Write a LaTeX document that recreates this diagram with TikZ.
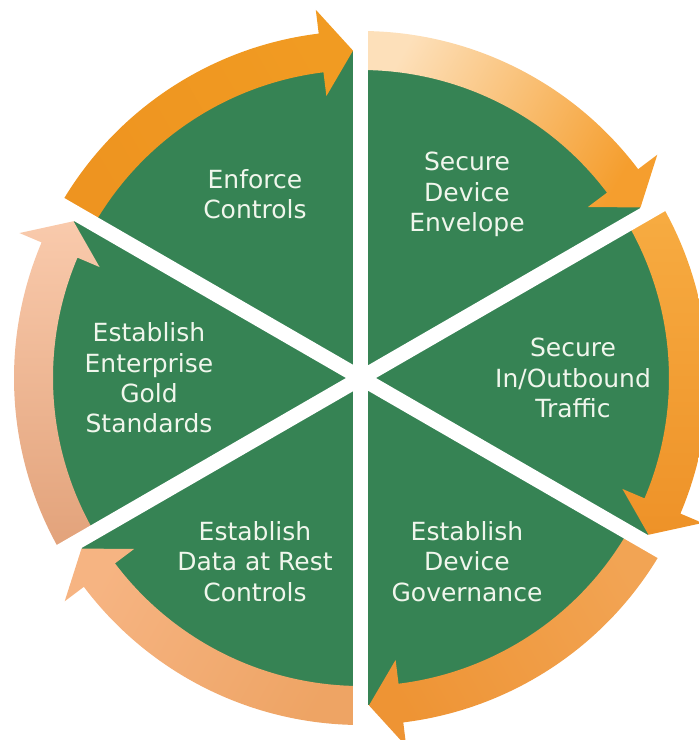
\documentclass[tikz,border=0pt]{standalone}
\usepackage{fontspec}
\setmainfont{DejaVu Sans}
\usepackage{tikz}
\usetikzlibrary{positioning}

\definecolor{wheelgreen}{RGB}{54,131,84}
\definecolor{labelwhite}{RGB}{240,246,236}
\definecolor{enforcetail}{RGB}{238,148,32}
\definecolor{enforcehead}{RGB}{241,155,34}
\definecolor{envelopetail}{RGB}{253,224,186}
\definecolor{envelopehead}{RGB}{245,158,46}
\definecolor{traffictail}{RGB}{247,172,66}
\definecolor{traffichead}{RGB}{238,146,40}
\definecolor{govtail}{RGB}{242,164,84}
\definecolor{govhead}{RGB}{238,148,52}
\definecolor{resttail}{RGB}{238,164,100}
\definecolor{resthead}{RGB}{246,180,130}
\definecolor{goldtail}{RGB}{226,162,122}
\definecolor{goldhead}{RGB}{249,202,172}

% one band of the cycle: #1 tail angle, #2 tail colour, #3 head colour
\newcommand{\cyclearrow}[3]{%
  \pgfmathsetmacro{\backang}{#1-53}%
  \pgfmathsetmacro{\tipang}{#1-58.6}%
  \pgfmathsetmacro{\shadeang}{#1-30}%
  \shade[top color=#2, bottom color=#3, shading angle=\shadeang]
    (#1:347pt) arc[start angle=#1, end angle=\backang, radius=347pt]
    -- (\backang:371pt) -- (\tipang:327.5pt) -- (\backang:284pt)
    -- (\backang:308pt) arc[start angle=\backang, end angle=#1, radius=308pt] -- cycle;
}

\begin{document}
\begin{tikzpicture}[
    gapline/.style={white, line width=15pt},
    steplabel/.style={text=labelwhite, align=center, font=\fontsize{25}{30.3}\selectfont}
  ]
  \useasboundingbox (-361pt,-362pt) rectangle (338pt,378pt);
  \coordinate (hub) at (0,0);
  \fill[wheelgreen] (hub) circle[radius=327pt];
  % the six arrows, clockwise
  \cyclearrow{150}{enforcetail}{enforcehead}
  \cyclearrow{90}{envelopetail}{envelopehead}
  \cyclearrow{30}{traffictail}{traffichead}
  \cyclearrow{-30}{govtail}{govhead}
  \cyclearrow{-90}{resttail}{resthead}
  \cyclearrow{210}{goldtail}{goldhead}
  % white cuts between the sectors
  \foreach \a in {30,90,...,330}
    \draw[gapline] (hub) -- (\a:380pt);
  \node[steplabel] (enforce) at (120:212pt) {Enforce\\Controls};
  \node[steplabel] (envelope) at (60:212pt) {Secure\\Device\\Envelope};
  \node[steplabel] (traffic) at (0:212pt) {Secure\\In/Outbound\\Traffic};
  \node[steplabel] (governance) at (300:212pt) {Establish\\Device\\Governance};
  \node[steplabel] (datarest) at (240:212pt) {Establish\\Data at Rest\\Controls};
  \node[steplabel] (gold) at (180:212pt) {Establish\\Enterprise\\Gold\\Standards};
\end{tikzpicture}
\end{document}
